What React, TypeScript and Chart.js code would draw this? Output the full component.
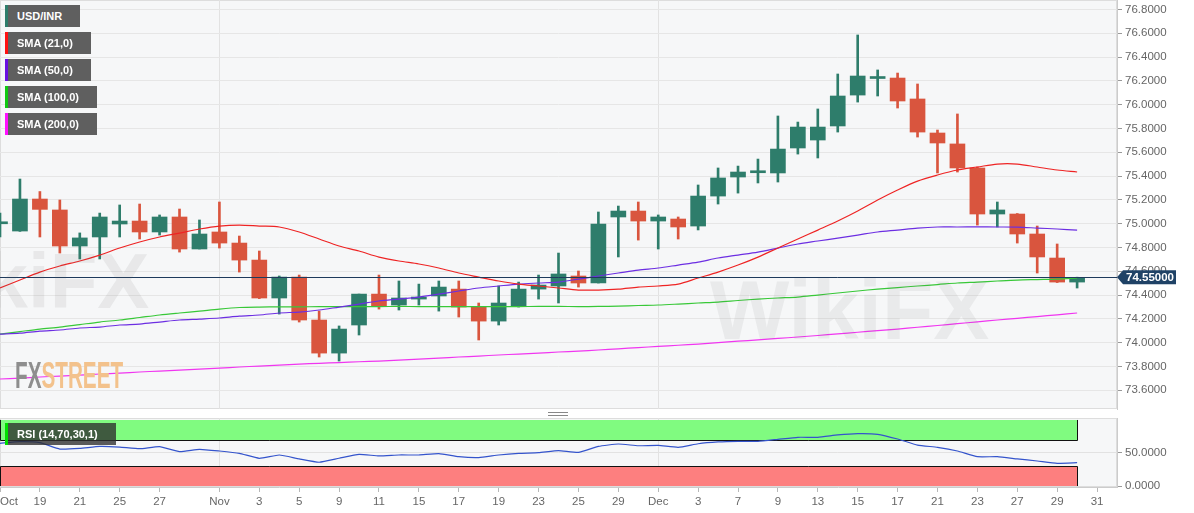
import { useEffect, useRef } from 'react'
import { Chart, registerables } from 'chart.js'

Chart.register(...registerables)

// trading days shown on the axis (two spare slots at the right edge)
const dates = [
  'Oct 15', 'Oct 18', 'Oct 19', 'Oct 20', 'Oct 21', 'Oct 22', 'Oct 25', 'Oct 26', 'Oct 27', 'Oct 28', 'Oct 29',
  'Nov 1', 'Nov 2', 'Nov 3', 'Nov 4', 'Nov 5', 'Nov 8', 'Nov 9', 'Nov 10', 'Nov 11', 'Nov 12', 'Nov 15',
  'Nov 16', 'Nov 17', 'Nov 18', 'Nov 19', 'Nov 22', 'Nov 23', 'Nov 24', 'Nov 25', 'Nov 26', 'Nov 29', 'Nov 30',
  'Dec 1', 'Dec 2', 'Dec 3', 'Dec 6', 'Dec 7', 'Dec 8', 'Dec 9', 'Dec 10', 'Dec 13', 'Dec 14', 'Dec 15',
  'Dec 16', 'Dec 17', 'Dec 20', 'Dec 21', 'Dec 22', 'Dec 23', 'Dec 24', 'Dec 27', 'Dec 28', 'Dec 29', 'Dec 30',
  'Dec 31', 'Jan 3',
]

const opens = [
  74.999, 74.938, 75.207, 75.115, 74.812, 74.888, 74.997, 75.022, 74.930, 75.056, 74.787,
  74.930, 74.837, 74.694, 74.375, 74.551, 74.190, 73.912, 74.148, 74.408, 74.316, 74.366,
  74.392, 74.450, 74.299, 74.181, 74.307, 74.450, 74.476, 74.560, 74.501, 75.056, 75.106,
  75.022, 75.039, 74.980, 75.232, 75.392, 75.428, 75.426, 75.636, 75.703, 75.821, 76.081,
  76.220, 76.224, 76.048, 75.762, 75.670, 75.468, 75.081, 75.081, 74.913, 74.711, 74.509,
]
const highs = [
  75.089, 75.375, 75.270, 75.199, 74.922, 75.089, 75.157, 75.165, 75.073, 75.123, 75.031,
  75.182, 74.896, 74.770, 74.560, 74.568, 74.265, 74.140, 74.408, 74.568, 74.518, 74.492,
  74.518, 74.518, 74.333, 74.476, 74.509, 74.568, 74.753, 74.602, 75.098, 75.148, 75.182,
  75.073, 75.056, 75.325, 75.468, 75.484, 75.543, 75.905, 75.854, 75.964, 76.258, 76.586,
  76.292, 76.266, 76.174, 75.787, 75.922, 75.476, 75.182, 75.085, 74.980, 74.829, 74.550,
]
const lows = [
  74.888, 74.935, 74.888, 74.753, 74.703, 74.703, 74.888, 74.871, 74.904, 74.761, 74.787,
  74.795, 74.593, 74.370, 74.240, 74.173, 73.879, 73.845, 74.064, 74.282, 74.274, 74.316,
  74.265, 74.215, 74.022, 74.148, 74.299, 74.366, 74.333, 74.467, 74.501, 74.720, 74.862,
  74.787, 74.871, 74.947, 75.165, 75.257, 75.342, 75.350, 75.585, 75.552, 75.770, 76.022,
  76.073, 75.972, 75.728, 75.426, 75.434, 74.988, 74.972, 74.837, 74.585, 74.505, 74.459,
]
const closes = [
  75.014, 75.207, 75.120, 74.812, 74.880, 75.056, 75.022, 74.930, 75.056, 74.787, 74.913,
  74.837, 74.694, 74.375, 74.551, 74.190, 73.912, 74.114, 74.408, 74.307, 74.375, 74.383,
  74.467, 74.299, 74.181, 74.333, 74.450, 74.484, 74.577, 74.501, 74.997, 75.106, 75.022,
  75.056, 74.972, 75.232, 75.384, 75.434, 75.440, 75.627, 75.812, 75.812, 76.073, 76.241,
  76.232, 76.031, 75.770, 75.678, 75.468, 75.081, 75.115, 74.913, 74.720, 74.509, 74.545,
]

const sma21 = [
  74.459, 74.526, 74.593, 74.644, 74.686, 74.736, 74.795, 74.846, 74.888, 74.921, 74.955,
  74.980, 74.988, 74.980, 74.972, 74.930, 74.871, 74.812, 74.770, 74.719, 74.686, 74.661,
  74.627, 74.585, 74.551, 74.518, 74.492, 74.476, 74.459, 74.442, 74.442, 74.450, 74.467,
  74.476, 74.492, 74.543, 74.593, 74.652, 74.719, 74.795, 74.871, 74.946, 75.022, 75.106,
  75.199, 75.283, 75.358, 75.409, 75.451, 75.476, 75.501, 75.501, 75.476, 75.451, 75.434,
]
const sma50 = [
  74.072, 74.080, 74.097, 74.106, 74.123, 74.131, 74.148, 74.156, 74.173, 74.190, 74.198,
  74.207, 74.223, 74.232, 74.249, 74.257, 74.274, 74.299, 74.324, 74.350, 74.366, 74.383,
  74.408, 74.434, 74.459, 74.476, 74.492, 74.501, 74.509, 74.534, 74.560, 74.585, 74.610,
  74.627, 74.652, 74.677, 74.711, 74.736, 74.761, 74.795, 74.829, 74.854, 74.879, 74.904,
  74.930, 74.946, 74.963, 74.972, 74.972, 74.973, 74.972, 74.971, 74.963, 74.955, 74.946,
]
const sma100 = [
  74.072, 74.093, 74.114, 74.131, 74.152, 74.173, 74.190, 74.211, 74.232, 74.249, 74.265,
  74.282, 74.295, 74.299, 74.300, 74.301, 74.302, 74.302, 74.303, 74.303, 74.304, 74.303,
  74.303, 74.302, 74.302, 74.303, 74.303, 74.304, 74.304, 74.303, 74.304, 74.307, 74.312,
  74.316, 74.324, 74.333, 74.341, 74.354, 74.366, 74.375, 74.383, 74.400, 74.417, 74.434,
  74.450, 74.463, 74.476, 74.488, 74.501, 74.509, 74.518, 74.526, 74.530, 74.534, 74.543,
]
const sma200 = [
  73.694, 73.702, 73.711, 73.719, 73.727, 73.736, 73.744, 73.753, 73.761, 73.769, 73.778,
  73.786, 73.795, 73.803, 73.811, 73.820, 73.826, 73.832, 73.839, 73.845, 73.853, 73.862,
  73.870, 73.879, 73.887, 73.896, 73.904, 73.912, 73.921, 73.929, 73.938, 73.948, 73.958,
  73.968, 73.978, 73.988, 74.000, 74.012, 74.023, 74.035, 74.047, 74.060, 74.074, 74.087,
  74.101, 74.114, 74.129, 74.144, 74.159, 74.175, 74.190, 74.204, 74.219, 74.234, 74.249,
]

const rsi = [
  64.7, 67.1, 65.6, 56.0, 57.0, 60.0, 59.0, 56.5, 59.6, 52.0, 55.6,
  53.0, 49.5, 42.0, 47.0, 41.0, 36.0, 42.0, 48.0, 45.5, 47.0, 47.0,
  49.0, 44.4, 43.0, 47.0, 49.5, 50.5, 53.5, 51.0, 60.0, 63.6, 61.0,
  61.6, 58.6, 64.0, 66.7, 67.7, 67.7, 70.7, 73.8, 73.8, 77.3, 79.3,
  78.3, 71.2, 62.0, 58.6, 53.0, 44.4, 44.4, 41.0, 37.9, 34.4, 35.3,
]

const priceTicks = [
  73.6, 73.8, 74.0, 74.2, 74.4, 74.6, 74.8, 75.0, 75.2, 75.4, 75.6, 75.8, 76.0, 76.2, 76.4, 76.6, 76.8,
]
const rsiTicks = [0, 50]
const rsiOverbought = 70
const rsiOversold = 30
const dateTickIndex = [
  0, 2, 4, 6, 8, 11, 13, 15, 17, 19, 21, 23, 25, 27, 29, 31, 33, 35, 37, 39, 41, 43, 45, 47, 49, 51, 53, 55,
]
const dateTickLabels = [
  'Oct', '19', '21', '25', '27', 'Nov', '3', '5', '9', '11', '15', '17', '19', '23', '25', '29',
  'Dec', '3', '7', '9', '13', '15', '17', '21', '23', '27', '29', '31',
]
const monthStarts = [11, 33]
const currentPrice = 74.55

const legendLabels = ['USD/INR', 'SMA (21,0)', 'SMA (50,0)', 'SMA (100,0)', 'SMA (200,0)']
const legendColors = ['#2e7d6b', '#ff1010', '#6a10e0', '#10c810', '#ff10ff']

const FONT = '"Liberation Sans", Arial, sans-serif'
const UP = '#2e7d6b'
const DOWN = '#d9553e'
const AXIS_TEXT = '#666666'

const plotBackground = {
  id: 'plotBackground',
  beforeDraw(chart: any) {
    const { ctx, chartArea: a } = chart
    ctx.save()
    ctx.fillStyle = '#f6f7f8'
    ctx.fillRect(a.left, a.top, a.right - a.left, a.bottom - a.top)
    ctx.strokeStyle = '#dddddd'
    ctx.lineWidth = 1
    ctx.strokeRect(a.left + 0.5, a.top + 0.5, a.right - a.left - 1, a.bottom - a.top - 1)
    ctx.restore()
  },
}

const priceMarker = {
  id: 'priceMarker',
  afterDatasetsDraw(chart: any) {
    const { ctx, chartArea: a, scales } = chart
    const py = Math.round(scales.y.getPixelForValue(currentPrice)) + 0.5
    ctx.save()
    ctx.strokeStyle = '#1e3a5c'
    ctx.lineWidth = 1
    ctx.beginPath()
    ctx.moveTo(a.left, py)
    ctx.lineTo(a.right, py)
    ctx.stroke()
    ctx.restore()
  },
  afterDraw(chart: any) {
    const { ctx, chartArea: a, scales } = chart
    const py = scales.y.getPixelForValue(currentPrice)
    const x0 = a.right + 3
    ctx.save()
    ctx.fillStyle = '#1f4266'
    ctx.beginPath()
    ctx.moveTo(a.right, py)
    ctx.lineTo(x0 + 3, py - 7)
    ctx.lineTo(x0 + 56, py - 7)
    ctx.lineTo(x0 + 56, py + 7)
    ctx.lineTo(x0 + 3, py + 7)
    ctx.closePath()
    ctx.fill()
    ctx.fillStyle = '#ffffff'
    ctx.font = `bold 11.5px ${FONT}`
    ctx.textBaseline = 'middle'
    ctx.fillText(currentPrice.toFixed(5), x0 + 6, py + 0.5)
    ctx.restore()
  },
}

const rsiBands = {
  id: 'rsiBands',
  beforeDatasetsDraw(chart: any) {
    const { ctx, chartArea: a, scales } = chart
    const { x, y } = scales
    const left = a.left
    const right = Math.round(x.getPixelForValue(rsi.length - 1)) + 0.5
    const yTop = y.getPixelForValue(100)
    const yOb = Math.round(y.getPixelForValue(rsiOverbought)) + 0.5
    const yOs = Math.round(y.getPixelForValue(rsiOversold)) + 0.5
    const yBottom = y.getPixelForValue(0)
    ctx.save()
    ctx.beginPath()
    ctx.rect(a.left, a.top, a.right - a.left, a.bottom - a.top)
    ctx.clip()
    ctx.fillStyle = '#80fb80'
    ctx.fillRect(left, yTop, right - left, yOb - yTop)
    ctx.fillStyle = '#fd7f7f'
    ctx.fillRect(left, yOs, right - left, yBottom - yOs)
    ctx.strokeStyle = '#111111'
    ctx.lineWidth = 1
    ctx.beginPath()
    ctx.moveTo(left + 0.5, yTop)
    ctx.lineTo(left + 0.5, yOb)
    ctx.lineTo(right, yOb)
    ctx.lineTo(right, yTop)
    ctx.moveTo(left + 0.5, yBottom)
    ctx.lineTo(left + 0.5, yOs)
    ctx.lineTo(right, yOs)
    ctx.lineTo(right, yBottom)
    ctx.stroke()
    ctx.restore()
  },
}

function smaLine(label: string, data: number[], color: string) {
  return {
    type: 'line' as const,
    label,
    data,
    borderColor: color,
    borderWidth: 1.2,
    pointRadius: 0,
    tension: 0.3,
    order: 0,
  }
}

function PriceChart() {
  const canvasRef = useRef<HTMLCanvasElement>(null)

  useEffect(() => {
    if (!canvasRef.current) return
    const colors = closes.map((c, i) => (c >= opens[i] ? UP : DOWN))

    const chart = new Chart(canvasRef.current, {
      type: 'bar',
      data: {
        labels: dates,
        datasets: [
          smaLine('SMA (21,0)', sma21, '#ee2424'),
          smaLine('SMA (50,0)', sma50, '#6c2ee2'),
          smaLine('SMA (100,0)', sma100, '#38c838'),
          smaLine('SMA (200,0)', sma200, '#f036f0'),
          {
            type: 'bar',
            label: 'body',
            data: opens.map((o, i) => [o, closes[i]]),
            backgroundColor: colors,
            barThickness: 15,
            minBarLength: 2,
            grouped: false,
            order: 1,
          },
          {
            type: 'bar',
            label: 'wick',
            data: lows.map((l, i) => [l, highs[i]]),
            backgroundColor: colors,
            barThickness: 2,
            grouped: false,
            order: 2,
          },
        ] as any,
      },
      options: {
        animation: false,
        responsive: false,
        events: [],
        layout: { padding: { bottom: 1 } },
        plugins: { legend: { display: false }, tooltip: { enabled: false } },
        scales: {
          x: {
            type: 'category',
            offset: false,
            ticks: { display: false },
            grid: { offset: false, color: '#e2e2e2', drawTicks: false },
            border: { display: false },
            afterBuildTicks: (s: any) => {
              s.ticks = monthStarts.map(v => ({ value: v }))
            },
            afterFit: (s: any) => {
              s.height = 0
              s.paddingLeft = 0
              s.paddingRight = 0
            },
          },
          y: {
            position: 'right',
            min: 73.442,
            max: 76.88,
            ticks: {
              autoSkip: false,
              padding: 3,
              color: AXIS_TEXT,
              font: { family: FONT, size: 11.5 },
              callback: (v: any) => Number(v).toFixed(4),
            },
            grid: { color: '#e6e6e6', tickColor: '#999999', tickLength: 5 },
            border: { color: '#cccccc' },
            afterBuildTicks: (s: any) => {
              s.ticks = priceTicks.map(v => ({ value: v }))
            },
            afterFit: (s: any) => {
              s.width = 77
              s.paddingTop = 0
              s.paddingBottom = 0
            },
          },
        },
      } as any,
      plugins: [plotBackground, priceMarker],
    })

    return () => chart.destroy()
  }, [])

  return <canvas ref={canvasRef} width={1194} height={410} style={{ position: 'absolute', left: 0, top: 0 }} />
}

function RsiChart() {
  const canvasRef = useRef<HTMLCanvasElement>(null)

  useEffect(() => {
    if (!canvasRef.current) return
    const lastSlot = dates.length - 1

    const chart = new Chart(canvasRef.current, {
      type: 'line',
      data: {
        labels: dates,
        datasets: [
          {
            label: 'RSI (14,70,30,1)',
            data: rsi,
            borderColor: '#3454cc',
            borderWidth: 1.2,
            pointRadius: 0,
            tension: 0.15,
          },
        ],
      },
      options: {
        animation: false,
        responsive: false,
        events: [],
        layout: { padding: 0 },
        plugins: { legend: { display: false }, tooltip: { enabled: false } },
        scales: {
          x: {
            type: 'category',
            offset: false,
            ticks: {
              autoSkip: false,
              maxRotation: 0,
              align: 'inner',
              padding: 3,
              color: AXIS_TEXT,
              font: { family: FONT, size: 11.5 },
              callback: (v: any) => {
                const k = dateTickIndex.indexOf(Number(v))
                return k >= 0 ? dateTickLabels[k] : ''
              },
            },
            grid: {
              offset: false,
              color: (c: any) => (monthStarts.includes(c.tick?.value) ? '#e2e2e2' : 'rgba(0,0,0,0)'),
              tickColor: (c: any) => (c.tick?.value === lastSlot ? 'rgba(0,0,0,0)' : '#b8b8b8'),
              tickLength: 5,
            },
            border: { color: '#cccccc' },
            afterBuildTicks: (s: any) => {
              s.ticks = [...dateTickIndex, lastSlot].map(v => ({ value: v }))
            },
            afterFit: (s: any) => {
              s.height = 26
              s.paddingLeft = 0
              s.paddingRight = 0
            },
          },
          y: {
            position: 'right',
            min: -1.5,
            max: 103,
            ticks: {
              autoSkip: false,
              padding: 3,
              color: AXIS_TEXT,
              font: { family: FONT, size: 11.5 },
              callback: (v: any) => Number(v).toFixed(4),
            },
            grid: {
              color: (c: any) => (c.tick?.value === 50 ? '#e2e2e2' : 'rgba(0,0,0,0)'),
              tickColor: '#999999',
              tickLength: 5,
            },
            border: { color: '#cccccc' },
            afterBuildTicks: (s: any) => {
              s.ticks = rsiTicks.map(v => ({ value: v }))
            },
            afterFit: (s: any) => {
              s.width = 77
              s.paddingTop = 0
              s.paddingBottom = 0
            },
          },
        },
      } as any,
      plugins: [plotBackground, rsiBands],
    })

    return () => chart.destroy()
  }, [])

  return <canvas ref={canvasRef} width={1194} height={95} style={{ position: 'absolute', left: 0, top: 418 }} />
}

function Tag({ text, color, top, bg }: { text: string; color: string; top: number; bg: string }) {
  return (
    <div
      style={{
        position: 'absolute',
        left: 5,
        top,
        height: 22,
        padding: '0 18px 0 9px',
        background: bg,
        borderLeft: `3px solid ${color}`,
        color: '#fff',
        fontFamily: FONT,
        fontWeight: 'bold',
        fontSize: 11,
        lineHeight: '22px',
        whiteSpace: 'nowrap',
      }}
    >
      {text}
    </div>
  )
}

export default function App() {
  return (
    <div
      style={{
        position: 'relative',
        width: 1194,
        height: 513,
        background: '#ffffff',
        overflow: 'hidden',
        fontFamily: FONT,
      }}
    >
      <style>{'body{margin:0}'}</style>
      <PriceChart />
      <RsiChart />

      {/* watermarks */}
      <div
        style={{
          position: 'absolute',
          left: 15,
          top: 358,
          fontFamily: FONT,
          fontWeight: 'bold',
          fontSize: 36,
          lineHeight: '36px',
          transform: 'scaleX(0.575)',
          transformOrigin: 'left top',
          whiteSpace: 'nowrap',
          pointerEvents: 'none',
        }}
      >
        <span style={{ color: '#8e8e8e' }}>FX</span>
        <span style={{ color: '#f3c28c' }}>STREET</span>
      </div>
      <div
        style={{
          position: 'absolute',
          left: -110,
          top: 236,
          fontFamily: FONT,
          fontWeight: 'bold',
          fontSize: 78,
          color: 'rgba(110,110,110,0.10)',
          pointerEvents: 'none',
          whiteSpace: 'nowrap',
        }}
      >
        WikiFX
      </div>
      <div
        style={{
          position: 'absolute',
          left: 710,
          top: 262,
          fontFamily: FONT,
          fontWeight: 'bold',
          fontSize: 84,
          color: 'rgba(110,110,110,0.09)',
          pointerEvents: 'none',
          whiteSpace: 'nowrap',
        }}
      >
        WikiFX
      </div>

      {legendLabels.map((t, i) => (
        <Tag key={t} text={t} color={legendColors[i]} top={5 + i * 27} bg="#5f5f5f" />
      ))}

      {/* panel splitter */}
      <div
        style={{
          position: 'absolute',
          left: 548,
          top: 412,
          width: 20,
          height: 2,
          borderTop: '1px solid #888',
          borderBottom: '1px solid #888',
        }}
      />

      <Tag text="RSI (14,70,30,1)" color="#00e000" top={423} bg="rgba(45,45,45,0.78)" />
    </div>
  )
}
